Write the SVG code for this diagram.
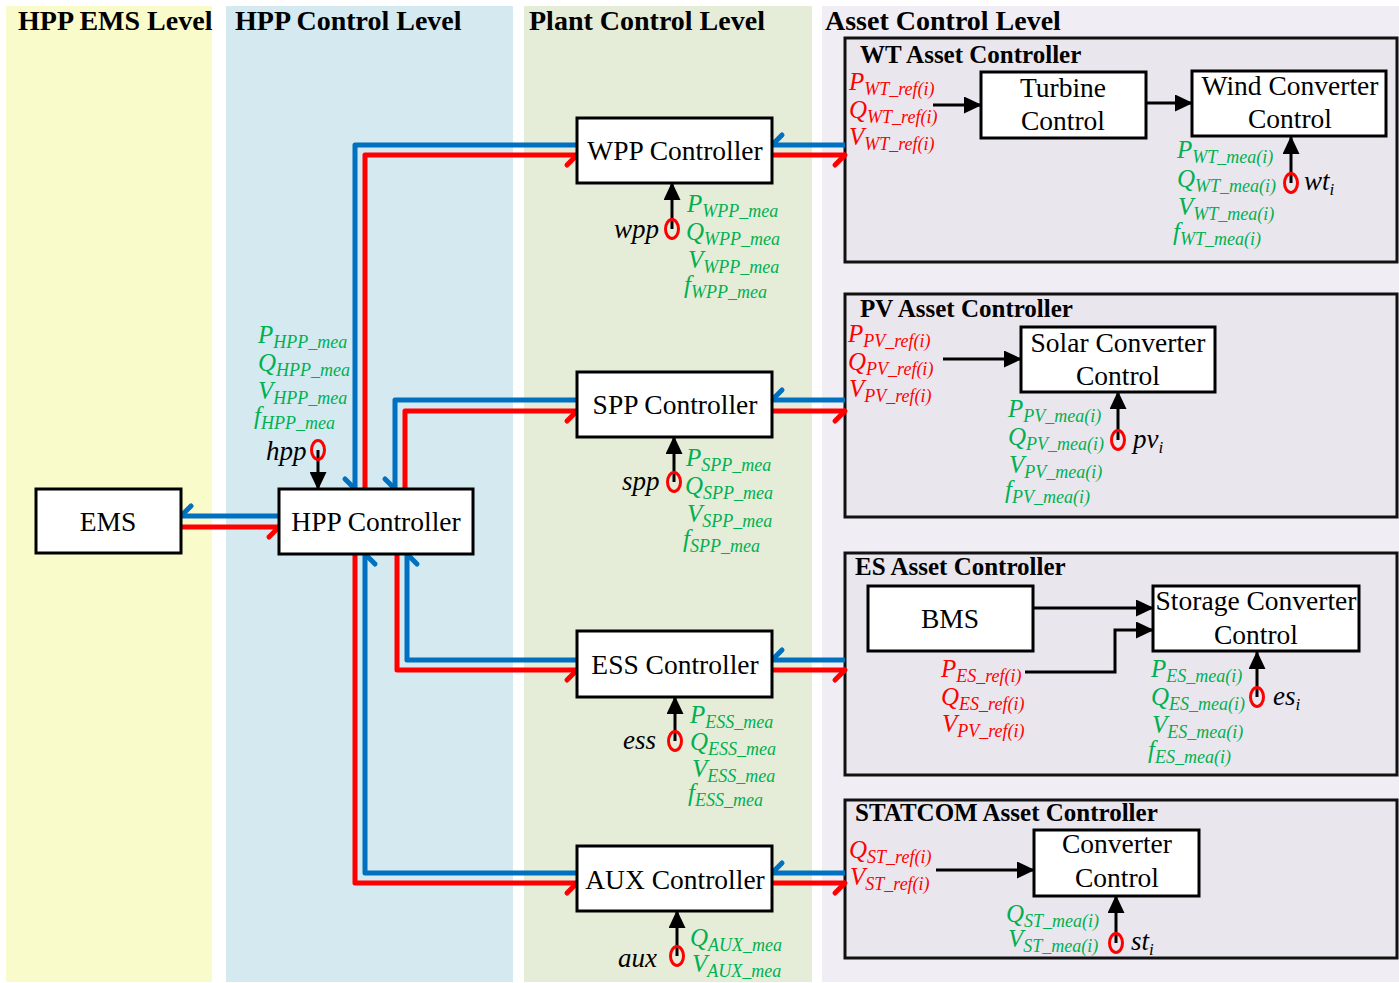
<svg xmlns="http://www.w3.org/2000/svg" width="1399" height="983" viewBox="0 0 1399 983">
<style>
text { font-family: "Liberation Serif", "Times New Roman", serif; }
.lbl { font-size: 27.5px; text-anchor: middle; fill: #000; }
.ttl { font-size: 28px; font-weight: bold; fill: #000; }
.att { font-size: 25px; font-weight: bold; fill: #000; }
.v { font-size: 25px; font-style: italic; }
.s { font-size: 18px; }
.g { fill: #00B050; }
.r { fill: #FF0000; }
.k { fill: #000; font-size: 27px; font-style: italic; }
.box { fill: #FFFFFF; stroke: #000; stroke-width: 3; }
.abox { fill: #E9E6EE; stroke: #111; stroke-width: 3; }
.blu { fill: none; stroke: #0070C0; stroke-width: 5; stroke-linejoin: round; marker-end: url(#bB); }
.red { fill: none; stroke: #FF0000; stroke-width: 5; stroke-linejoin: round; marker-end: url(#bR); }
.blk { fill: none; stroke: #000; stroke-width: 3; marker-end: url(#ah); }
.sen { fill: none; stroke: #FF0000; stroke-width: 3; }
</style>
<defs>
<marker id="bR" markerUnits="userSpaceOnUse" viewBox="-15 -5 20 20" markerWidth="20" markerHeight="20" refX="0" refY="0" orient="auto">
<path d="M0,0 L-10,10" stroke="#FF0000" stroke-width="5" stroke-linecap="round" fill="none"/>
</marker>
<marker id="bB" markerUnits="userSpaceOnUse" viewBox="-15 -5 20 20" markerWidth="20" markerHeight="20" refX="0" refY="0" orient="auto">
<path d="M0,0 L-10,10" stroke="#0070C0" stroke-width="5" stroke-linecap="round" fill="none"/>
</marker>
<marker id="ah" markerUnits="userSpaceOnUse" viewBox="0 0 18 17" markerWidth="18" markerHeight="17" refX="17" refY="8.5" orient="auto">
<path d="M0,0 L18,8.5 L0,17 z" fill="#000"/>
</marker>
</defs>

<g id="columns">
<rect x="6" y="6" width="206" height="976" fill="#F9FBCB"/>
<rect x="226" y="6" width="287" height="976" fill="#D4E9F0"/>
<rect x="524" y="6" width="288" height="976" fill="#E5EDD9"/>
<rect x="822" y="6" width="577" height="976" fill="#F0EEF4"/>
<text class="ttl" x="18" y="30">HPP EMS Level</text>
<text class="ttl" x="235" y="30">HPP Control Level</text>
<text class="ttl" x="529" y="30">Plant Control Level</text>
<text class="ttl" x="825" y="30">Asset Control Level</text>
</g>

<g id="asset-frames">
<rect class="abox" x="845" y="38" width="552" height="224"/>
<text class="att" x="860" y="63">WT Asset Controller</text>
<rect class="abox" x="845" y="294" width="552" height="223"/>
<text class="att" x="860" y="317">PV Asset Controller</text>
<rect class="abox" x="845" y="553" width="552" height="222"/>
<text class="att" x="855" y="575">ES Asset Controller</text>
<rect class="abox" x="845" y="800" width="552" height="158"/>
<text class="att" x="855" y="821">STATCOM Asset Controller</text>
</g>

<g id="connectors">
<path class="blu" d="M279,516 L181,516"/>
<path class="red" d="M181,527 L279,527"/>
<path class="blu" d="M577,145 L355,145 L355,489"/>
<path class="red" d="M365,489 L365,155 L577,155"/>
<path class="blu" d="M577,400 L395,400 L395,489"/>
<path class="red" d="M405,489 L405,411 L577,411"/>
<path class="blu" d="M577,660 L407,660 L407,554"/>
<path class="red" d="M397,554 L397,670 L577,670"/>
<path class="blu" d="M577,873 L365,873 L365,554"/>
<path class="red" d="M355,554 L355,883 L577,883"/>
<path class="blu" d="M845,145 L772,145"/>
<path class="red" d="M772,155 L845,155"/>
<path class="blu" d="M845,400 L772,400"/>
<path class="red" d="M772,411 L845,411"/>
<path class="blu" d="M845,660 L772,660"/>
<path class="red" d="M772,670 L845,670"/>
<path class="blu" d="M845,873 L772,873"/>
<path class="red" d="M772,883 L845,883"/>
<path class="blk" d="M318,450 L318,489"/>
<path class="blk" d="M672,229 L672,183"/>
<path class="blk" d="M674,482 L674,437"/>
<path class="blk" d="M675,741 L675,697"/>
<path class="blk" d="M677,956 L677,911"/>
<path class="blk" d="M933,105 L981,105"/>
<path class="blk" d="M1146,103 L1192,103"/>
<path class="blk" d="M1291,183 L1291,137"/>
<path class="blk" d="M943,359 L1021,359"/>
<path class="blk" d="M1118,440 L1118,392"/>
<path class="blk" d="M1033,608 L1153,608"/>
<path class="blk" d="M1025,672 L1115,672 L1115,630 L1153,630"/>
<path class="blk" d="M1257,697 L1257,652"/>
<path class="blk" d="M936,870 L1034,870"/>
<path class="blk" d="M1116,943 L1116,896"/>
</g>

<g id="ems">
<rect class="box" x="36" y="489" width="145" height="64"/>
<text class="lbl" x="108" y="531">EMS</text>
</g>

<g id="hpp">
<rect class="box" x="279" y="489" width="194" height="65"/>
<text class="lbl" x="376" y="531">HPP Controller</text>
<text class="v g" x="258" y="343">P<tspan class="s" dy="5">HPP_mea</tspan></text>
<text class="v g" x="258" y="371">Q<tspan class="s" dy="5">HPP_mea</tspan></text>
<text class="v g" x="258" y="399">V<tspan class="s" dy="5">HPP_mea</tspan></text>
<text class="v g" x="254" y="424">f<tspan class="s" dy="5">HPP_mea</tspan></text>
<text class="k" x="266" y="460">hpp</text>
<ellipse class="sen" cx="318" cy="450" rx="6.5" ry="9.5"/>
</g>

<g id="wpp">
<rect class="box" x="577" y="118" width="195" height="65"/>
<text class="lbl" x="675" y="160">WPP Controller</text>
<text class="k" x="614" y="238">wpp</text>
<ellipse class="sen" cx="672" cy="229" rx="6.5" ry="9.5"/>
<text class="v g" x="687" y="212">P<tspan class="s" dy="5">WPP_mea</tspan></text>
<text class="v g" x="686" y="240">Q<tspan class="s" dy="5">WPP_mea</tspan></text>
<text class="v g" x="688" y="268">V<tspan class="s" dy="5">WPP_mea</tspan></text>
<text class="v g" x="684" y="293">f<tspan class="s" dy="5">WPP_mea</tspan></text>
</g>

<g id="spp">
<rect class="box" x="577" y="372" width="195" height="65"/>
<text class="lbl" x="675" y="414">SPP Controller</text>
<text class="k" x="622" y="490">spp</text>
<ellipse class="sen" cx="674" cy="482" rx="6.5" ry="9.5"/>
<text class="v g" x="686" y="466">P<tspan class="s" dy="5">SPP_mea</tspan></text>
<text class="v g" x="685" y="494">Q<tspan class="s" dy="5">SPP_mea</tspan></text>
<text class="v g" x="687" y="522">V<tspan class="s" dy="5">SPP_mea</tspan></text>
<text class="v g" x="683" y="547">f<tspan class="s" dy="5">SPP_mea</tspan></text>
</g>

<g id="ess">
<rect class="box" x="577" y="631" width="195" height="66"/>
<text class="lbl" x="675" y="674">ESS Controller</text>
<text class="k" x="623" y="749">ess</text>
<ellipse class="sen" cx="675" cy="741" rx="6.5" ry="9.5"/>
<text class="v g" x="690" y="723">P<tspan class="s" dy="5">ESS_mea</tspan></text>
<text class="v g" x="690" y="750">Q<tspan class="s" dy="5">ESS_mea</tspan></text>
<text class="v g" x="692" y="777">V<tspan class="s" dy="5">ESS_mea</tspan></text>
<text class="v g" x="688" y="801">f<tspan class="s" dy="5">ESS_mea</tspan></text>
</g>

<g id="aux">
<rect class="box" x="577" y="846" width="195" height="65"/>
<text class="lbl" x="675" y="889">AUX Controller</text>
<text class="k" x="618" y="967">aux</text>
<ellipse class="sen" cx="677" cy="956" rx="6.5" ry="9.5"/>
<text class="v g" x="690" y="946">Q<tspan class="s" dy="5">AUX_mea</tspan></text>
<text class="v g" x="692" y="972">V<tspan class="s" dy="5">AUX_mea</tspan></text>
</g>

<g id="wt-asset">
<text class="v r" x="849" y="90">P<tspan class="s" dy="5">WT_ref(i)</tspan></text>
<text class="v r" x="849" y="118">Q<tspan class="s" dy="5">WT_ref(i)</tspan></text>
<text class="v r" x="849" y="145">V<tspan class="s" dy="5">WT_ref(i)</tspan></text>
<rect class="box" x="981" y="72" width="165" height="66"/>
<text class="lbl" x="1063" y="97">Turbine</text>
<text class="lbl" x="1063" y="130">Control</text>
<rect class="box" x="1192" y="71" width="194" height="65"/>
<text class="lbl" x="1290" y="95">Wind Converter</text>
<text class="lbl" x="1290" y="128">Control</text>
<text class="v g" x="1177" y="158">P<tspan class="s" dy="5">WT_mea(i)</tspan></text>
<text class="v g" x="1177" y="187">Q<tspan class="s" dy="5">WT_mea(i)</tspan></text>
<text class="v g" x="1178" y="215">V<tspan class="s" dy="5">WT_mea(i)</tspan></text>
<text class="v g" x="1173" y="240">f<tspan class="s" dy="5">WT_mea(i)</tspan></text>
<ellipse class="sen" cx="1291" cy="183" rx="6.5" ry="9.5"/>
<text class="k" x="1304" y="190">wt<tspan font-size="17" dy="5">i</tspan></text>
</g>

<g id="pv-asset">
<text class="v r" x="848" y="342">P<tspan class="s" dy="5">PV_ref(i)</tspan></text>
<text class="v r" x="848" y="370">Q<tspan class="s" dy="5">PV_ref(i)</tspan></text>
<text class="v r" x="849" y="397">V<tspan class="s" dy="5">PV_ref(i)</tspan></text>
<rect class="box" x="1021" y="327" width="194" height="65"/>
<text class="lbl" x="1118" y="352">Solar Converter</text>
<text class="lbl" x="1118" y="385">Control</text>
<text class="v g" x="1008" y="417">P<tspan class="s" dy="5">PV_mea(i)</tspan></text>
<text class="v g" x="1008" y="445">Q<tspan class="s" dy="5">PV_mea(i)</tspan></text>
<text class="v g" x="1009" y="473">V<tspan class="s" dy="5">PV_mea(i)</tspan></text>
<text class="v g" x="1005" y="498">f<tspan class="s" dy="5">PV_mea(i)</tspan></text>
<ellipse class="sen" cx="1118" cy="440" rx="6.5" ry="9.5"/>
<text class="k" x="1133" y="448">pv<tspan font-size="17" dy="5">i</tspan></text>
</g>

<g id="es-asset">
<rect class="box" x="868" y="586" width="165" height="65"/>
<text class="lbl" x="950" y="628">BMS</text>
<rect class="box" x="1153" y="586" width="206" height="65"/>
<text class="lbl" x="1256" y="610">Storage Converter</text>
<text class="lbl" x="1256" y="644">Control</text>
<text class="v r" x="941" y="677">P<tspan class="s" dy="5">ES_ref(i)</tspan></text>
<text class="v r" x="941" y="705">Q<tspan class="s" dy="5">ES_ref(i)</tspan></text>
<text class="v r" x="942" y="732">V<tspan class="s" dy="5">PV_ref(i)</tspan></text>
<text class="v g" x="1151" y="677">P<tspan class="s" dy="5">ES_mea(i)</tspan></text>
<text class="v g" x="1151" y="705">Q<tspan class="s" dy="5">ES_mea(i)</tspan></text>
<text class="v g" x="1152" y="733">V<tspan class="s" dy="5">ES_mea(i)</tspan></text>
<text class="v g" x="1148" y="758">f<tspan class="s" dy="5">ES_mea(i)</tspan></text>
<ellipse class="sen" cx="1257" cy="697" rx="6.5" ry="9.5"/>
<text class="k" x="1273" y="705">es<tspan font-size="17" dy="5">i</tspan></text>
</g>

<g id="st-asset">
<text class="v r" x="849" y="858">Q<tspan class="s" dy="5">ST_ref(i)</tspan></text>
<text class="v r" x="850" y="885">V<tspan class="s" dy="5">ST_ref(i)</tspan></text>
<rect class="box" x="1034" y="830" width="165" height="66"/>
<text class="lbl" x="1117" y="853">Converter</text>
<text class="lbl" x="1117" y="887">Control</text>
<text class="v g" x="1006" y="922">Q<tspan class="s" dy="5">ST_mea(i)</tspan></text>
<text class="v g" x="1008" y="947">V<tspan class="s" dy="5">ST_mea(i)</tspan></text>
<ellipse class="sen" cx="1116" cy="943" rx="6.5" ry="9.5"/>
<text class="k" x="1131" y="950">st<tspan font-size="17" dy="5">i</tspan></text>
</g>
</svg>
